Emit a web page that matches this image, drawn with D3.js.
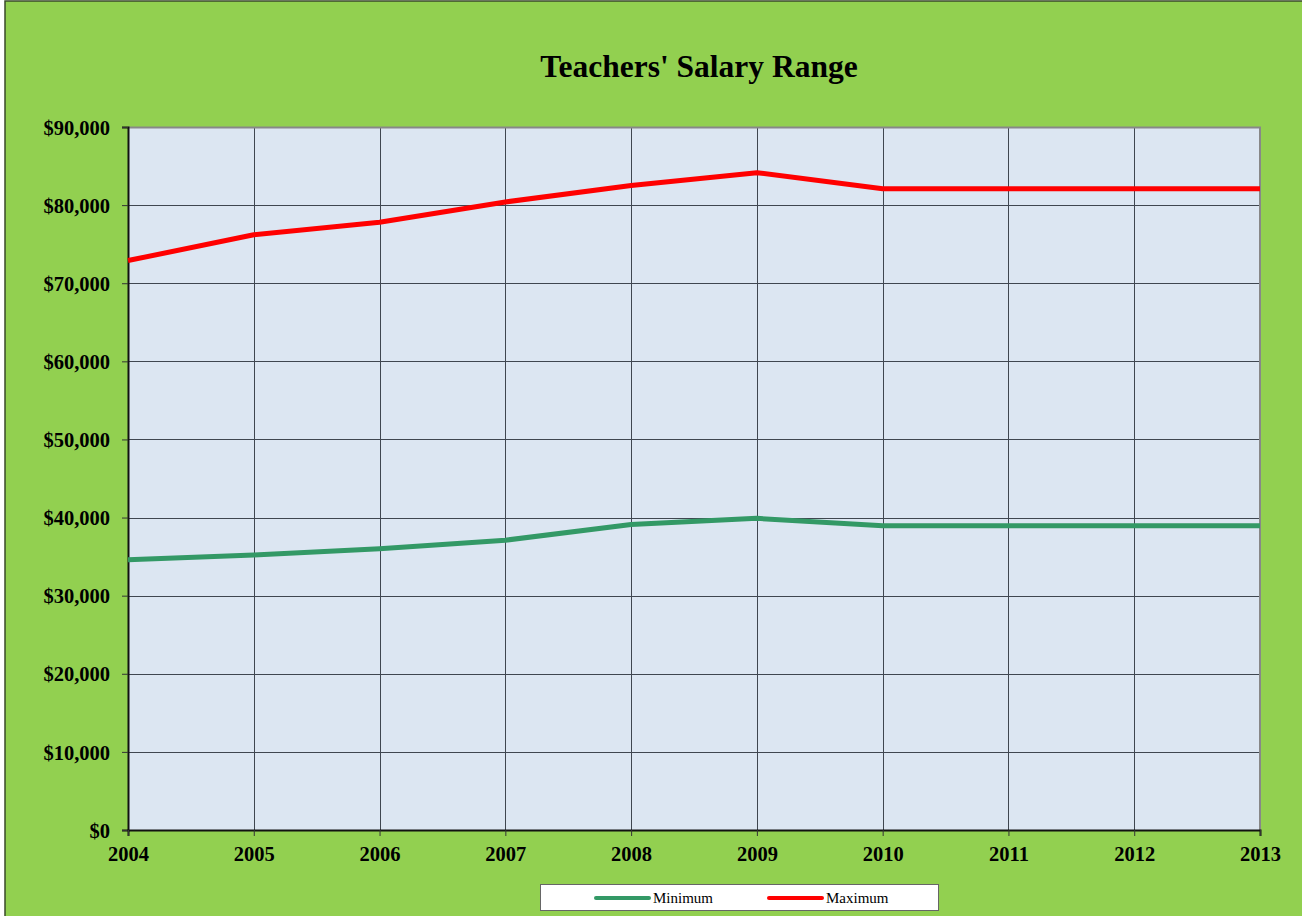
<!DOCTYPE html>
<html>
<head>
<meta charset="utf-8">
<script src="https://cdn.jsdelivr.net/npm/d3@7"></script>
<style>
  body { margin: 0; background: #fff; }
  svg { display: block; }
  text { font-family: "Liberation Serif", "Times New Roman", serif; }
</style>
</head>
<body>
<div id="chart"></div>
<script>
let years = [2004, 2005, 2006, 2007, 2008, 2009, 2010, 2011, 2012, 2013];
let minimum = [34600, 35200, 36000, 37100, 39100, 39900, 38950, 38950, 38950, 38950];
let maximum = [72900, 76200, 77800, 80400, 82500, 84150, 82100, 82100, 82100, 82100];
let yTicks = [0, 10000, 20000, 30000, 40000, 50000, 60000, 70000, 80000, 90000];
let seriesNames = ["Minimum", "Maximum"];
let seriesColors = ["#339966", "#FF0000"];

let chartWidth = 1302, chartHeight = 916;
let plotLeft = 128, plotRight = 1260, plotTop = 127, plotBottom = 830;

let svg = d3.select("#chart").append("svg")
.attr("width", chartWidth)
.attr("height", chartHeight);

// chart background
svg.append("rect")
.attr("x", 5).attr("y", 1)
.attr("width", chartWidth).attr("height", chartHeight)
.attr("fill", "#92D050")
.attr("stroke", "#3A4A2A")
.attr("stroke-width", 1.5);

svg.append("text")
.attr("x", 699).attr("y", 77)
.attr("text-anchor", "middle")
.style("font-size", "31.5px")
.style("font-weight", "bold")
.text("Teachers' Salary Range");

let x = d3.scaleLinear()
.domain([2004, 2013])
.range([plotLeft, plotRight]);

let y = d3.scaleLinear()
.domain([0, 90000])
.range([plotBottom, plotTop]);

// plot area
svg.append("rect")
.attr("x", plotLeft).attr("y", plotTop)
.attr("width", plotRight - plotLeft).attr("height", plotBottom - plotTop)
.attr("fill", "#DCE6F2");

// gridlines
svg.append("g")
.selectAll("line")
.data(yTicks.slice(1, -1))
.enter().append("line")
.attr("x1", plotLeft).attr("x2", plotRight)
.attr("y1", d => Math.round(y(d)) + 0.5)
.attr("y2", d => Math.round(y(d)) + 0.5)
.attr("stroke", "#3F4650").attr("stroke-width", 1);

svg.append("g")
.selectAll("line")
.data(years.slice(1, -1))
.enter().append("line")
.attr("y1", plotTop).attr("y2", plotBottom)
.attr("x1", d => Math.round(x(d)) + 0.5)
.attr("x2", d => Math.round(x(d)) + 0.5)
.attr("stroke", "#3F4650").attr("stroke-width", 1);

// plot border top/right
svg.append("path")
.attr("d", `M${plotLeft},${plotTop + 0.5}H${plotRight}V${plotBottom}`)
.attr("fill", "none")
.attr("stroke", "#888888")
.attr("stroke-width", 2);

let yAxis = d3.axisLeft(y)
.tickValues(yTicks)
.tickSize(6)
.tickPadding(12)
.tickFormat(d => "$" + d3.format(",")(d));

let xAxis = d3.axisBottom(x)
.tickValues(years)
.tickSize(6)
.tickPadding(8)
.tickFormat(d3.format("d"));

let gy = svg.append("g")
.attr("transform", `translate(${plotLeft},0)`)
.call(yAxis);

let gx = svg.append("g")
.attr("transform", `translate(0,${plotBottom})`)
.call(xAxis);

[gx, gy].forEach(g => {
	g.select(".domain").attr("stroke", "#111").attr("stroke-width", 2);
	g.selectAll(".tick line").attr("stroke", "#333");
	g.selectAll("text")
	.style("font-family", "'Liberation Serif', 'Times New Roman', serif")
	.style("font-size", "20.5px")
	.style("font-weight", "bold")
	.attr("fill", "#000");
});
gy.selectAll("text").attr("dy", "0.35em");
gx.selectAll("text").attr("dy", "0.85em");

let line = d3.line()
.x((d, i) => x(years[i]))
.y(d => y(d));

[minimum, maximum].forEach((s, i) => {
	svg.append("path")
	.datum(s)
	.attr("d", line)
	.attr("fill", "none")
	.attr("stroke", seriesColors[i])
	.attr("stroke-width", 5)
	.attr("stroke-linejoin", "round");
});

// legend
let legend = svg.append("g");
legend.append("rect")
.attr("x", 540.5).attr("y", 884.5)
.attr("width", 398).attr("height", 26)
.attr("fill", "#fff")
.attr("stroke", "#666");

let legendX = [596, 769];
seriesNames.forEach((name, i) => {
	legend.append("line")
	.attr("x1", legendX[i]).attr("x2", legendX[i] + 53)
	.attr("y1", 898).attr("y2", 898)
	.attr("stroke", seriesColors[i])
	.attr("stroke-width", 4)
	.attr("stroke-linecap", "round");
	legend.append("text")
	.attr("x", legendX[i] + 57).attr("y", 903)
	.style("font-size", "15px")
	.text(name);
});
</script>
</body>
</html>
